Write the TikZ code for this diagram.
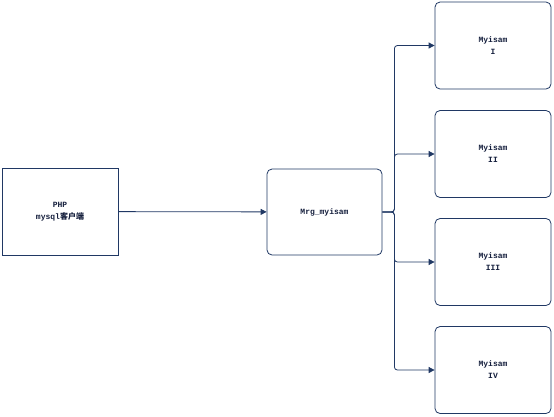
\documentclass[tikz,border=0pt]{standalone}
\usepackage{fontspec}
\setmonofont{Liberation Mono}
\newfontfamily\cjk{Noto Sans CJK SC}
\usetikzlibrary{arrows.meta,positioning}
\definecolor{lnNavy}{RGB}{ 32, 56,100}
\definecolor{txNavy}{RGB}{ 20, 30, 60}

\begin{document}
\begin{tikzpicture}[
  x=1pt,y=-1pt,
  >={Triangle[length=6pt,width=6pt]},
  every node/.style={font=\ttfamily\bfseries\fontsize{8}{12}\selectfont,text=txNavy},
  client/.style={draw=lnNavy,thick,minimum width=116pt,minimum height=87pt,
                 align=center,inner sep=0pt},
  merge/.style ={draw=lnNavy,thick,rounded corners=5pt,minimum width=115pt,
                 minimum height=86pt,align=center,inner sep=0pt},
  table/.style ={draw=lnNavy,thick,rounded corners=5pt,minimum width=116pt,
                 minimum height=87pt,align=center,inner sep=0pt}
]
\useasboundingbox (0,0) rectangle (554,416);

\node[client] (php) at (60,211.5)  {PHP\\mysql{\cjk 客户端}};
\node[merge]  (mrg) at (324.5,212) {Mrg\_myisam};

\node[table] (m1) at (493,45.5)  {Myisam\\I};
\node[table] (m2) at (493,154)   {Myisam\\II};
\node[table] (m3) at (493,262)   {Myisam\\III};
\node[table] (m4) at (493,370)   {Myisam\\IV};

\draw[->,thick,lnNavy] (php) -- (mrg);
\foreach \t in {m1,m2,m3,m4}
  \draw[->,thick,lnNavy,rounded corners=3pt] (mrg.east) -- ++(12,0) |- (\t.west);
\end{tikzpicture}
\end{document}
